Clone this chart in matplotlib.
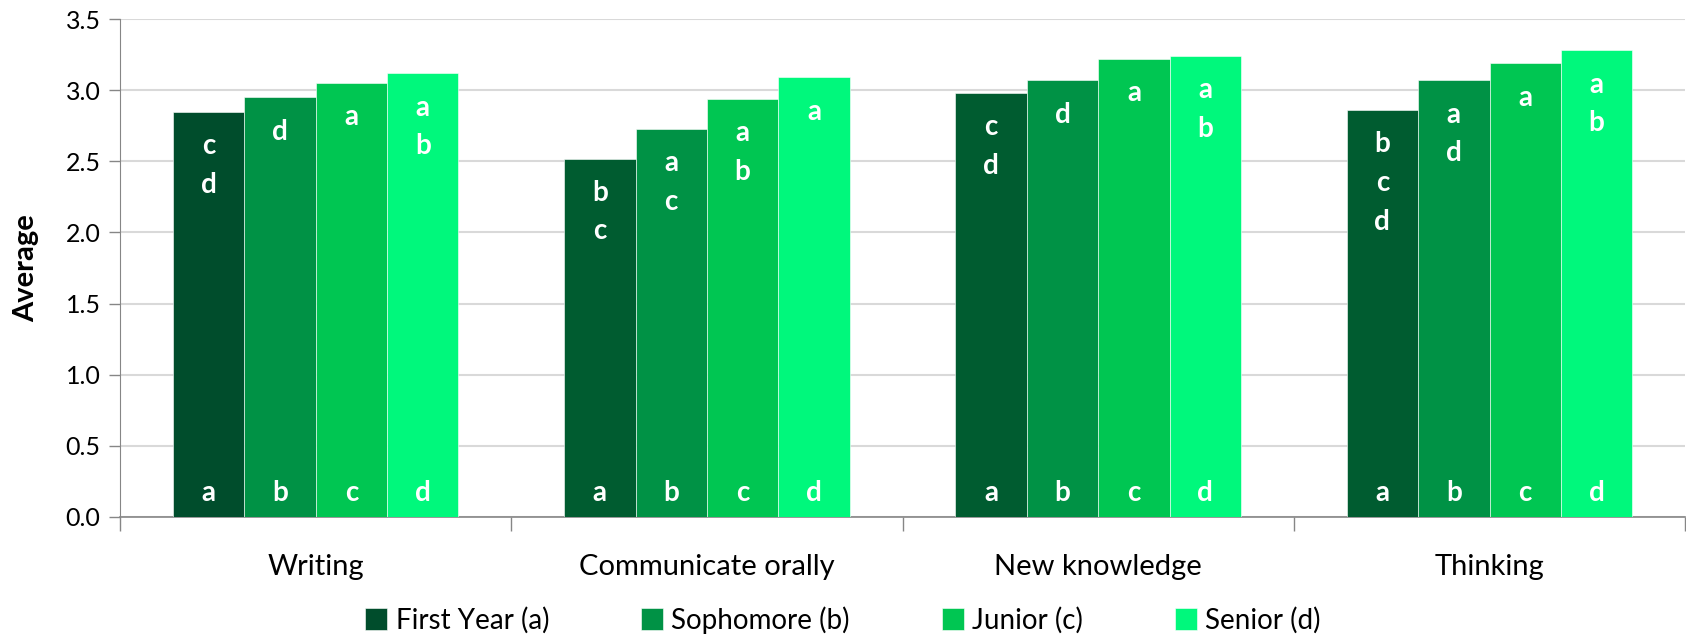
import matplotlib
matplotlib.use('Agg')
import matplotlib.pyplot as plt
import numpy as np

plt.rcParams['font.family'] = ['Lato', 'DejaVu Sans']

categories = ['Writing', 'Communicate orally', 'New knowledge', 'Thinking']
groups = ['First Year (a)', 'Sophomore (b)', 'Junior (c)', 'Senior (d)']
group_letters = ['a', 'b', 'c', 'd']
first_year = [2.85, 2.52, 2.98, 2.86]
sophomore = [2.95, 2.73, 3.07, 3.07]
junior = [3.05, 2.94, 3.22, 3.19]
senior = [3.12, 3.09, 3.24, 3.28]
# significance letters shown at the top of each bar, per group then category
sig_first_year = ['c\nd', 'b\nc', 'c\nd', 'b\nc\nd']
sig_sophomore = ['d', 'a\nc', 'd', 'a\nd']
sig_junior = ['a', 'a\nb', 'a', 'a']
sig_senior = ['a\nb', 'a', 'a\nb', 'a\nb']

series = [first_year, sophomore, junior, senior]
sigs = [sig_first_year, sig_sophomore, sig_junior, sig_senior]
colors = ['#005C30', '#009245', '#00C652', '#00F87C']

fig = plt.figure(figsize=(16.86, 6.37), dpi=100)
ax = fig.add_axes([0.0712, 0.1884, 0.9283, 0.7816])

x = np.arange(len(categories))
width = 0.1825
for i, vals in enumerate(series):
    pos = x + (i - 1.5) * width
    bars = ax.bar(pos, vals, width, color=colors[i], label=groups[i],
                  edgecolor='#FFFFFF', linewidth=0.4, zorder=3)
    if i == 0:
        bars[0].set_facecolor('#004D2C')
    for j, v in enumerate(vals):
        ax.text(pos[j], v - 0.15, sigs[i][j], ha='center', va='top',
                color='white', fontsize=20, fontweight='bold',
                linespacing=1.6, zorder=4)
        ax.text(pos[j], 0.17, group_letters[i], ha='center', va='center',
                color='white', fontsize=20, fontweight='bold', zorder=4)

ax.set_ylim(0, 3.5)
ax.set_xlim(-0.5, 3.5)
ax.set_yticks(np.arange(0, 3.51, 0.5))
ax.set_yticklabels(['%.1f' % t for t in np.arange(0, 3.51, 0.5)], fontsize=18)
ax.yaxis.grid(True, color='#D9D9D9', linewidth=1.5, zorder=0)
ax.set_axisbelow(True)

ax.set_xticks(x)
ax.set_xticklabels(categories, fontsize=21)
ax.tick_params(axis='x', length=0, pad=27)
ax.set_xticks(np.arange(-0.5, 4.0, 1.0), minor=True)
ax.tick_params(axis='x', which='minor', length=10, color='#868686', width=1)
ax.tick_params(axis='y', length=8, color='#868686', width=1, pad=6)

for side in ['top', 'right']:
    ax.spines[side].set_visible(False)
ax.spines['left'].set_color('#868686')
ax.spines['bottom'].set_color('#868686')
ax.spines['bottom'].set_linewidth(1.2)

ax.set_ylabel('Average', fontsize=21, fontweight='bold')
ax.yaxis.set_label_coords(-0.052, 0.5)

fig.legend(loc='center', bbox_to_anchor=(0.5, 0.027), ncol=4,
           frameon=False, fontsize=20, handlelength=0.8, handleheight=0.8,
           handletextpad=0.3, columnspacing=3.3)

fig.savefig('out.png', dpi=100)
